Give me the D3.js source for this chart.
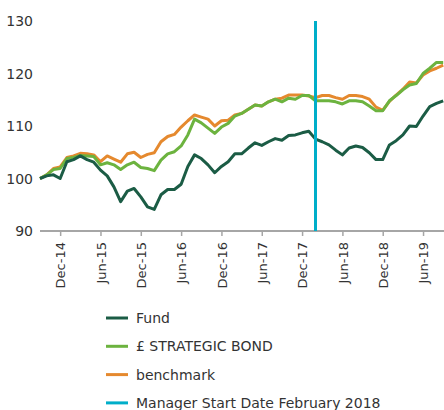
<!DOCTYPE html>
<html>
<head>
<meta charset="utf-8">
<script src="https://cdn.jsdelivr.net/npm/d3@7"></script>
<style>
  body { margin: 0; background: #fff; }
  svg text { font-family: "DejaVu Sans", sans-serif; fill: #333; }
</style>
</head>
<body>
<div id="main"></div>
<script>
const ctx = {
    w: 444,
    h: 410,
};

// monthly index values, Sep 2014 .. Sep 2019
const months = d3.utcMonth.range(new Date(Date.UTC(2014, 8, 1)), new Date(Date.UTC(2019, 9, 1)));

const fund = [100.0, 100.5, 100.7, 100.0, 103.2, 103.6, 104.3, 103.6, 103.1, 101.6,
    100.5, 98.4, 95.6, 97.6, 98.1, 96.5, 94.6, 94.1, 96.9, 97.9,
    97.9, 98.9, 102.3, 104.5, 103.8, 102.6, 101.1, 102.3, 103.2, 104.7,
    104.7, 105.8, 106.8, 106.3, 107.0, 107.6, 107.3, 108.2, 108.3, 108.7,
    109.0, 107.5, 107.0, 106.4, 105.4, 104.5, 105.8, 106.2, 105.9, 104.9,
    103.6, 103.6, 106.4, 107.2, 108.3, 110.0, 109.9, 111.9, 113.7, 114.3, 114.8];

const strategicBond = [100.0, 100.7, 101.7, 101.9, 103.8, 104.0, 104.4, 104.3, 104.2, 102.6,
    103.0, 102.6, 101.7, 102.6, 103.1, 102.1, 101.9, 101.5, 103.5, 104.7,
    105.1, 106.2, 108.3, 111.3, 110.6, 109.6, 108.6, 109.8, 110.5, 111.9,
    112.4, 113.2, 114.0, 113.8, 114.6, 115.1, 114.6, 115.3, 115.1, 115.8,
    115.8, 114.8, 114.8, 114.8, 114.6, 114.2, 114.8, 114.8, 114.6, 113.8,
    112.9, 112.9, 114.8, 115.8, 116.9, 117.8, 118.1, 120.0, 121.0, 122.1, 122.1];

const benchmark = [100.0, 100.7, 101.9, 102.2, 104.0, 104.3, 104.8, 104.7, 104.5, 103.2,
    104.3, 103.7, 103.1, 104.7, 105.0, 104.0, 104.6, 104.9, 107.0, 108.0,
    108.4, 109.8, 111.0, 112.1, 111.7, 111.3, 110.0, 111.0, 111.1, 112.1,
    112.4, 113.2, 114.0, 113.8, 114.6, 115.1, 115.3, 115.9, 115.9, 115.9,
    115.7, 115.4, 115.8, 115.8, 115.4, 115.1, 115.8, 115.8, 115.6, 115.1,
    113.6, 113.0, 114.7, 115.9, 117.0, 118.4, 118.2, 119.7, 120.5, 121.0, 121.6];

const managerStart = new Date(Date.UTC(2018, 1, 1));
const yTicks = [90, 100, 110, 120, 130];

const seriesNames = ["Fund", "£ STRATEGIC BOND", "benchmark", "Manager Start Date February 2018"];
const colors = ["#1b5c45", "#6cb33f", "#e5892e", "#00aec9"];

function createChart(svg) {
    let x = d3.scalePoint()
        .domain(months.map(d => +d))
        .range([40, 443.2]);
    let y = d3.scaleLinear()
        .domain([90, 130])
        .range([231, 21]);

    // y labels
    svg.append("g").selectAll("text")
        .data(yTicks)
        .enter().append("text")
        .attr("x", 33)
        .attr("y", d => y(d))
        .attr("dy", "0.36em")
        .attr("text-anchor", "end")
        .style("font-size", "14px")
        .text(d => d);

    // x axis
    let tickMonths = months.filter(d => d.getUTCMonth() == 5 || d.getUTCMonth() == 11);
    let fmt = d3.utcFormat("%b-%y");
    let xAxis = d3.axisBottom(x)
        .tickValues(tickMonths.map(d => +d))
        .tickSize(5)
        .tickSizeOuter(0)
        .tickFormat(d => fmt(new Date(d)));
    let ax = svg.append("g")
        .attr("transform", "translate(0,231)")
        .call(xAxis);
    ax.select(".domain").attr("stroke", "#a6a6a6").attr("stroke-width", 2)
        .attr("d", "M40,0H444");
    ax.selectAll(".tick line").attr("stroke", "#a6a6a6").attr("stroke-width", 1.5);
    ax.selectAll(".tick text")
        .attr("transform", "rotate(-90)")
        .attr("text-anchor", "end")
        .attr("x", -11)
        .attr("y", 0)
        .attr("dy", "0.36em")
        .style("font-size", "13px")
        .attr("fill", null);

    let line = d3.line()
        .x((d, i) => x(+months[i]))
        .y(d => y(d));

    [benchmark, strategicBond, fund].forEach((s, k) => {
        svg.append("path")
            .datum(s)
            .attr("fill", "none")
            .attr("stroke", colors[2 - k])
            .attr("stroke-width", 3)
            .attr("stroke-linejoin", "round")
            .attr("d", line);
    });

    // manager start marker
    svg.append("line")
        .attr("x1", x(+managerStart)).attr("x2", x(+managerStart))
        .attr("y1", y(130)).attr("y2", y(90))
        .attr("stroke", colors[3])
        .attr("stroke-width", 3);

    // legend
    let leg = svg.append("g").selectAll("g")
        .data(seriesNames)
        .enter().append("g")
        .attr("transform", (d, i) => "translate(106," + (318 + i * 28.3) + ")");
    leg.append("line")
        .attr("x1", 0).attr("x2", 22)
        .attr("stroke", (d, i) => colors[i])
        .attr("stroke-width", 3);
    leg.append("text")
        .attr("x", 30)
        .attr("dy", "0.36em")
        .style("font-size", "14px")
        .text(d => d);
}

let svgEl = d3.select("#main").append("svg")
    .attr("width", ctx.w)
    .attr("height", ctx.h);
createChart(svgEl);
</script>
</body>
</html>
